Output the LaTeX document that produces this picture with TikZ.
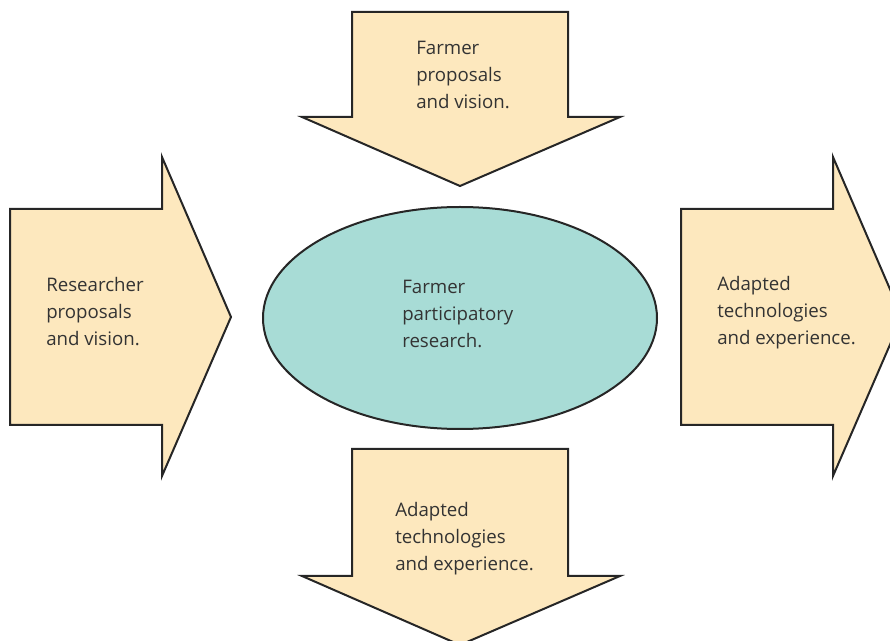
\documentclass[tikz,border=0pt]{standalone}
\usepackage{fontspec}
\setmainfont{Open Sans}
\begin{document}
\begin{tikzpicture}[x=0.75pt,y=-0.75pt,
  blockarrow/.style={draw=black!85, line width=1.5pt, line join=miter, fill=arrowfill},
  label/.style={align=left, anchor=west, inner sep=0pt, text=black!80,
    font=\fontsize{14pt}{20.25pt}\selectfont}]
\definecolor{arrowfill}{RGB}{253,232,190}
\definecolor{hubfill}{RGB}{168,220,214}
\clip (0,0) rectangle (890,641);
\useasboundingbox (0,0) rectangle (890,641);

% inflow from the top
\draw[blockarrow] (352,12) -- (568,12) -- (568,117) -- (620,117) -- (460,186)
  -- (302,117) -- (352,117) -- cycle;
% inflow from the left
\draw[blockarrow] (10,209) -- (162,209) -- (162,157) -- (231,317) -- (162,476)
  -- (162,425) -- (10,425) -- cycle;
% outflow to the right
\draw[blockarrow] (681,209) -- (833,209) -- (833,157) -- (902,317) -- (833,476)
  -- (833,425) -- (681,425) -- cycle;
% outflow to the bottom
\draw[blockarrow] (352,449) -- (568,449) -- (568,576) -- (620,576) -- (460,645)
  -- (302,576) -- (352,576) -- cycle;

% central hub
\draw[line width=1.5pt, draw=black!85, fill=hubfill] (460,318) ellipse [x radius=197, y radius=111];

\node[label] (farmer)   at (416,75)  {Farmer\\proposals\\and vision.};
\node[label] (research) at (46,312)  {Researcher\\proposals\\and vision.};
\node[label] (hub)      at (402,314) {Farmer\\participatory\\research.};
\node[label] (adaptR)   at (717,313) {Adapted\\technologies\\and experience.};
\node[label] (adaptB)   at (395,539) {Adapted\\technologies\\and experience.};
\end{tikzpicture}
\end{document}
